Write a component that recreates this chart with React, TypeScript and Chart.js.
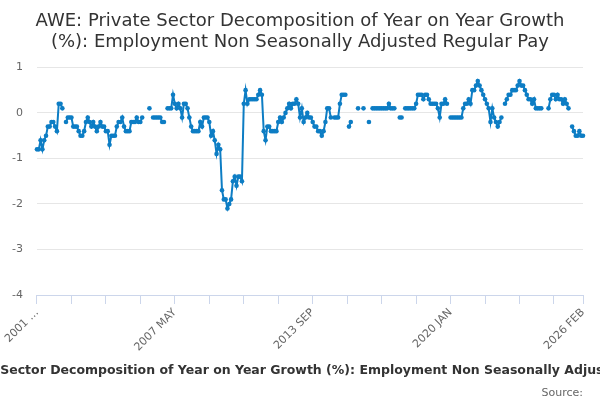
import { useEffect, useRef } from "react"
import { Chart, registerables } from "chart.js"

Chart.register(...registerables)

const chartTitle =
  "AWE: Private Sector Decomposition of Year on Year Growth (%): Employment Non Seasonally Adjusted Regular Pay"
const titleLines = [
  "AWE: Private Sector Decomposition of Year on Year Growth",
  "(%): Employment Non Seasonally Adjusted Regular Pay",
]
const sourceText = "Source:"

const monthNames = ["JAN", "FEB", "MAR", "APR", "MAY", "JUN", "JUL", "AUG", "SEP", "OCT", "NOV", "DEC"]
const startYear = 2001

// one row per year, 2001 JAN .. 2026 FEB
const values: (number | null)[] = [
  -0.8, -0.8, -0.6, -0.8, -0.6, -0.5, -0.3, -0.3, -0.2, -0.2, -0.3, -0.4,
  0.2, 0.2, 0.1, null, -0.2, -0.1, -0.1, -0.1, -0.3, -0.3, -0.3, -0.4,
  -0.5, -0.5, -0.4, -0.2, -0.1, -0.2, -0.3, -0.2, -0.3, -0.4, -0.3, -0.2,
  -0.3, -0.3, -0.4, -0.4, -0.7, -0.5, -0.5, -0.5, -0.3, -0.2, -0.2, -0.1,
  -0.3, -0.4, -0.4, -0.4, -0.2, -0.2, -0.2, -0.1, -0.2, -0.2, -0.1, null,
  null, null, 0.1, null, -0.1, -0.1, -0.1, -0.1, -0.1, -0.2, -0.2, null,
  0.1, 0.1, 0.1, 0.4, 0.2, 0.1, 0.2, 0.1, -0.1, 0.2, 0.2, 0.1,
  -0.1, -0.3, -0.4, -0.4, -0.4, -0.4, -0.2, -0.3, -0.1, -0.1, -0.1, -0.2,
  -0.5, -0.4, -0.6, -0.9, -0.7, -0.8, -1.7, -1.9, -1.9, -2.1, -2.0, -1.9,
  -1.5, -1.4, -1.6, -1.4, -1.4, -1.5, 0.2, 0.5, 0.2, 0.3, 0.3, 0.3,
  0.3, 0.3, 0.4, 0.5, 0.4, -0.4, -0.6, -0.3, -0.3, -0.4, -0.4, -0.4,
  -0.4, -0.2, -0.1, -0.2, -0.1, 0.0, 0.1, 0.2, 0.1, 0.2, 0.2, 0.3,
  0.2, -0.1, 0.1, -0.2, -0.1, 0.0, -0.1, -0.1, -0.2, -0.3, -0.3, -0.4,
  -0.4, -0.5, -0.4, -0.2, 0.1, 0.1, -0.1, null, -0.1, -0.1, -0.1, 0.2,
  0.4, 0.4, 0.4, null, -0.3, -0.2, null, null, null, 0.1, null, null,
  0.1, null, null, -0.2, null, 0.1, 0.1, 0.1, 0.1, 0.1, 0.1, 0.1,
  0.1, 0.1, 0.2, 0.1, 0.1, 0.1, null, null, -0.1, -0.1, null, 0.1,
  0.1, 0.1, 0.1, 0.1, 0.1, 0.2, 0.4, 0.4, 0.4, 0.3, 0.4, 0.4,
  0.3, 0.2, 0.2, 0.2, 0.2, 0.1, -0.1, 0.2, 0.2, 0.3, 0.2, null,
  -0.1, -0.1, -0.1, -0.1, -0.1, -0.1, -0.1, 0.1, 0.2, 0.2, 0.3, 0.2,
  0.5, 0.5, 0.6, 0.7, 0.6, 0.5, 0.4, 0.3, 0.2, 0.1, -0.2, 0.1,
  -0.1, -0.2, -0.3, -0.2, -0.1, null, 0.2, 0.3, 0.4, 0.4, 0.5, 0.5,
  0.5, 0.6, 0.7, 0.6, 0.6, 0.5, 0.4, 0.3, 0.3, 0.2, 0.3, 0.1,
  0.1, 0.1, 0.1, null, null, null, 0.1, 0.3, 0.4, 0.4, 0.3, 0.4,
  0.3, 0.3, 0.2, 0.3, 0.2, 0.1, null, -0.3, -0.4, -0.5, -0.5, -0.4,
  -0.5, -0.5,
]

const labels = values.map((_, i) => `${startYear + Math.floor(i / 12)} ${monthNames[i % 12]}`)

const yMin = -4
const yMax = 1
const tickEvery = 19 // months between tick marks
const labelEvery = 76 // months between tick labels
const lineColor = "#0d7dc4"
const fontFamily = "'DejaVu Sans', sans-serif"

const titleSize = 18
const titleLineHeight = 1.15
const titlePadTop = 11
const axisTitleSize = 12.5
const axisTitlePadBottom = 2

// Both titles are painted by hand: the top one centred on the whole canvas,
// the axis one without the width limit Chart.js would squeeze it into.
// The built-in title boxes are kept (transparent) so they still reserve space.
const titlesPlugin = {
  id: "titles",
  afterDraw(chart: Chart) {
    const { ctx, chartArea, width } = chart
    const xScale = chart.scales.x
    ctx.save()
    ctx.fillStyle = "#333333"
    ctx.textAlign = "center"
    ctx.textBaseline = "middle"

    ctx.font = `normal ${titleSize}px ${fontFamily}`
    const lh = titleSize * titleLineHeight
    titleLines.forEach((line, i) => {
      ctx.fillText(line, width / 2, titlePadTop + lh / 2 + i * lh)
    })

    ctx.font = `bold ${axisTitleSize}px ${fontFamily}`
    ctx.fillText(
      chartTitle,
      (chartArea.left + chartArea.right) / 2,
      xScale.bottom - axisTitlePadBottom - (axisTitleSize * 1.2) / 2
    )
    ctx.restore()
  },
}

export default function App() {
  const chartRef = useRef<HTMLCanvasElement>(null)
  const chartInstance = useRef<Chart | null>(null)

  useEffect(() => {
    document.body.style.margin = "0"
    if (!chartRef.current) return

    if (chartInstance.current) {
      chartInstance.current.destroy()
    }

    const ctx = chartRef.current.getContext("2d")
    if (!ctx) return

    Chart.defaults.font.family = fontFamily
    const last = labels.length - 1

    chartInstance.current = new Chart(ctx, {
      type: "line",
      data: {
        labels,
        datasets: [
          {
            data: values,
            borderColor: lineColor,
            backgroundColor: lineColor,
            borderWidth: 2,
            pointRadius: 2.3,
            pointBorderWidth: 0,
            tension: 0,
            spanGaps: false,
          },
        ],
      },
      options: {
        responsive: false,
        animation: false,
        layout: { padding: { left: -2, right: 17, top: 0, bottom: 0 } },
        plugins: {
          legend: { display: false },
          tooltip: { enabled: false },
          title: {
            display: true,
            text: titleLines,
            color: "rgba(0,0,0,0)",
            font: { size: titleSize, weight: "normal", lineHeight: titleLineHeight },
            padding: { top: titlePadTop, bottom: 15 },
          },
          subtitle: {
            display: true,
            position: "bottom",
            align: "end",
            text: sourceText,
            color: "#666666",
            font: { size: 11 },
            padding: { top: 7, bottom: 0 },
          },
        },
        scales: {
          x: {
            afterBuildTicks: (scale) => {
              scale.ticks = scale.ticks.filter((t) => t.value % tickEvery === 0 || t.value === last)
            },
            ticks: {
              autoSkip: false,
              minRotation: 45,
              maxRotation: 45,
              color: "#666666",
              font: { size: 11 },
              padding: 2,
              callback: (v) => {
                const i = Number(v)
                if (i === 0) return "2001 …"
                if (i % labelEvery === 0 || i === last) return labels[i]
                return ""
              },
            },
            grid: {
              drawOnChartArea: false,
              drawTicks: true,
              tickLength: 9,
              tickColor: "#ccd6eb",
            },
            border: { color: "#ccd6eb" },
            title: {
              display: true,
              text: "AWE",
              color: "rgba(0,0,0,0)",
              font: { size: axisTitleSize, weight: "bold" },
              padding: { top: 7, bottom: axisTitlePadBottom },
            },
          },
          y: {
            min: yMin,
            max: yMax,
            ticks: { stepSize: 1, color: "#666666", font: { size: 11 }, padding: 14 },
            grid: { color: "#e6e6e6", drawTicks: false },
            border: { display: false },
          },
        },
      },
      plugins: [titlesPlugin],
    })

    return () => {
      if (chartInstance.current) {
        chartInstance.current.destroy()
        chartInstance.current = null
      }
    }
  }, [])

  return (
    <div style={{ width: 600, height: 400 }}>
      <canvas ref={chartRef} width={600} height={400}></canvas>
    </div>
  )
}
